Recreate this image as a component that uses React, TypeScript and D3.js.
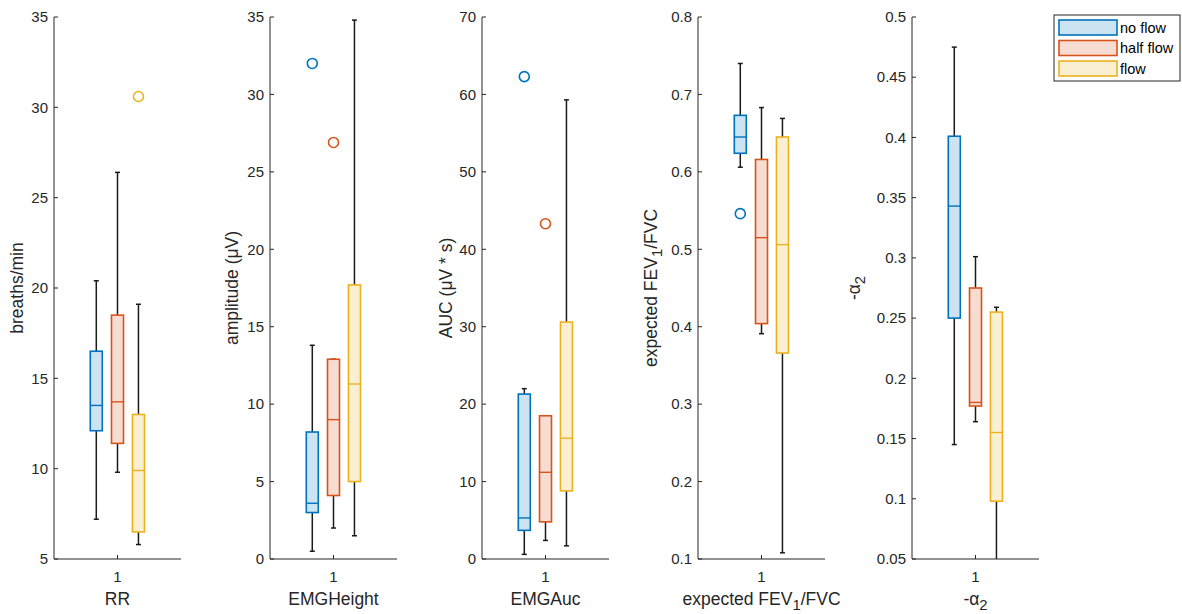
import React from 'react';
import * as d3 from 'd3';

// ---------- data ----------
const groups = ['no flow', 'half flow', 'flow'];
const groupColors = ['#0072BD', '#D95319', '#EDB120'];

// each stat row: [whiskerLow, q1, median, q3, whiskerHigh]
const rrStats = [
  [7.2, 12.1, 13.5, 16.5, 20.4],
  [9.8, 11.4, 13.7, 18.5, 26.4],
  [5.8, 6.5, 9.9, 13.0, 19.1],
];
const rrOutliers = [[], [], [30.6]];

const heightStats = [
  [0.5, 3.0, 3.6, 8.2, 13.8],
  [2.0, 4.1, 9.0, 12.9, 12.9],
  [1.5, 5.0, 11.3, 17.7, 34.8],
];
const heightOutliers = [[32.0], [26.9], []];

const aucStats = [
  [0.6, 3.7, 5.3, 21.3, 22.0],
  [2.4, 4.8, 11.2, 18.5, 18.5],
  [1.7, 8.8, 15.6, 30.6, 59.3],
];
const aucOutliers = [[62.3], [43.3], []];

const fevStats = [
  [0.606, 0.624, 0.645, 0.673, 0.74],
  [0.391, 0.404, 0.515, 0.616, 0.683],
  [0.108, 0.366, 0.506, 0.645, 0.669],
];
const fevOutliers = [[0.546], [], []];

const alphaStats = [
  [0.145, 0.25, 0.343, 0.401, 0.475],
  [0.164, 0.177, 0.18, 0.275, 0.301],
  [0.04, 0.098, 0.155, 0.255, 0.259],
];
const alphaOutliers = [[], [], []];

const rrTicks = [5, 10, 15, 20, 25, 30, 35];
const heightTicks = [0, 5, 10, 15, 20, 25, 30, 35];
const aucTicks = [0, 10, 20, 30, 40, 50, 60, 70];
const fevTicks = [0.1, 0.2, 0.3, 0.4, 0.5, 0.6, 0.7, 0.8];
const alphaTicks = [0.05, 0.1, 0.15, 0.2, 0.25, 0.3, 0.35, 0.4, 0.45, 0.5];
const xTickLabels = ['1'];

type Seg = { t: string; sub?: boolean };

const panels = [
  { stats: rrStats, outliers: rrOutliers, ticks: rrTicks, ylabel: [{ t: 'breaths/min' }] as Seg[], xlabel: [{ t: 'RR' }] as Seg[] },
  { stats: heightStats, outliers: heightOutliers, ticks: heightTicks, ylabel: [{ t: 'amplitude (\u03BCV)' }] as Seg[], xlabel: [{ t: 'EMGHeight' }] as Seg[] },
  { stats: aucStats, outliers: aucOutliers, ticks: aucTicks, ylabel: [{ t: 'AUC (\u03BCV * s)' }] as Seg[], xlabel: [{ t: 'EMGAuc' }] as Seg[] },
  { stats: fevStats, outliers: fevOutliers, ticks: fevTicks, ylabel: [{ t: 'expected FEV' }, { t: '1', sub: true }, { t: '/FVC' }] as Seg[], xlabel: [{ t: 'expected FEV' }, { t: '1', sub: true }, { t: '/FVC' }] as Seg[] },
  { stats: alphaStats, outliers: alphaOutliers, ticks: alphaTicks, ylabel: [{ t: '-\u03B1' }, { t: '2', sub: true }] as Seg[], xlabel: [{ t: '-\u03B1' }, { t: '2', sub: true }] as Seg[] },
];

// ---------- layout ----------
const W = 1182;
const H = 614;
const panelLeft = [54, 270, 482, 698, 912];
const ylabelOffset = [31, 32, 30, 41, 52];
const panelWidth = 127;
const top = 17;
const bottom = 559;
const groupOffsets = [-0.167, 0, 0.165];
const boxHalf = 6;
const capHalf = 2.5;
const axisColor = '#262626';
const labelSize = 17.5;
const FONT = '"Liberation Sans", Arial, Helvetica, sans-serif';

function fillOf(c: string) {
  const rgb = d3.rgb(c);
  const a = 0.2;
  return d3.rgb(rgb.r * a + 255 * (1 - a), rgb.g * a + 255 * (1 - a), rgb.b * a + 255 * (1 - a)).formatHex();
}

function fmt(v: number) {
  return String(+v.toFixed(2));
}

function SegText({ segs, size }: { segs: Seg[]; size: number }) {
  const out: React.ReactNode[] = [];
  let prevSub = false;
  segs.forEach((s, i) => {
    let dy = 0;
    if (s.sub && !prevSub) dy = 5;
    if (!s.sub && prevSub) dy = -5;
    out.push(
      <tspan key={i} dy={dy} fontSize={s.sub ? size * 0.85 : size}>
        {s.t}
      </tspan>
    );
    prevSub = !!s.sub;
  });
  return <>{out}</>;
}

function Panel({ p, idx }: { p: (typeof panels)[number]; idx: number }) {
  const x0 = panelLeft[idx];
  const dom = d3.extent(p.ticks) as [number, number];
  const y = d3.scaleLinear().domain(dom).range([bottom, top]);
  const x = d3.scaleLinear().domain([0.5, 1.5]).range([x0, x0 + panelWidth]);
  const clipId = `clip${idx}`;
  const cx = x(1);
  return (
    <g>
      <defs>
        <clipPath id={clipId}>
          <rect x={x0} y={top} width={panelWidth} height={bottom - top} />
        </clipPath>
      </defs>
      <g clipPath={`url(#${clipId})`}>
        {p.stats.map((s, gi) => {
          const gx = x(1 + groupOffsets[gi]);
          const c = groupColors[gi];
          const [lo, q1, med, q3, hi] = s;
          return (
            <g key={gi}>
              <line x1={gx} x2={gx} y1={y(q3)} y2={y(hi)} stroke="#1a1a1a" strokeWidth={1.5} />
              <line x1={gx} x2={gx} y1={y(q1)} y2={y(lo)} stroke="#1a1a1a" strokeWidth={1.5} />
              <line x1={gx - capHalf} x2={gx + capHalf} y1={y(hi)} y2={y(hi)} stroke="#1a1a1a" strokeWidth={1.5} />
              <line x1={gx - capHalf} x2={gx + capHalf} y1={y(lo)} y2={y(lo)} stroke="#1a1a1a" strokeWidth={1.5} />
              <rect
                x={gx - boxHalf}
                y={y(q3)}
                width={boxHalf * 2}
                height={y(q1) - y(q3)}
                fill={fillOf(c)}
                stroke={c}
                strokeWidth={1.6}
              />
              <line x1={gx - boxHalf} x2={gx + boxHalf} y1={y(med)} y2={y(med)} stroke={c} strokeWidth={1.4} />
              {p.outliers[gi].map((o, oi) => (
                <circle key={oi} cx={gx} cy={y(o)} r={5} fill="none" stroke={c} strokeWidth={1.6} />
              ))}
            </g>
          );
        })}
      </g>
      <line x1={x0} x2={x0} y1={top} y2={bottom} stroke={axisColor} strokeWidth={1} />
      <line x1={x0} x2={x0 + panelWidth} y1={bottom} y2={bottom} stroke={axisColor} strokeWidth={1} />
      {p.ticks.map((t, ti) => (
        <g key={ti}>
          <line x1={x0} x2={x0 + 4} y1={y(t)} y2={y(t)} stroke={axisColor} strokeWidth={1} />
          <text x={x0 - 6} y={y(t)} dy="0.35em" textAnchor="end" fontSize={15} fill={axisColor} fontFamily={FONT}>
            {fmt(t)}
          </text>
        </g>
      ))}
      <line x1={cx} x2={cx} y1={bottom} y2={bottom - 4} stroke={axisColor} strokeWidth={1} />
      <text x={cx} y={582} textAnchor="middle" fontSize={15} fill={axisColor} fontFamily={FONT}>
        {xTickLabels[0]}
      </text>
      <text x={cx} y={605} textAnchor="middle" fontSize={labelSize} fill={axisColor} fontFamily={FONT}>
        <SegText segs={p.xlabel} size={labelSize} />
      </text>
      <text
        transform={`translate(${x0 - ylabelOffset[idx]},${(top + bottom) / 2}) rotate(-90)`}
        textAnchor="middle"
        fontSize={labelSize}
        fill={axisColor}
        fontFamily={FONT}
      >
        <SegText segs={p.ylabel} size={labelSize} />
      </text>
    </g>
  );
}

function Legend() {
  const lx = 1054;
  const ly = 15;
  const rowY = d3.scaleLinear().domain([0, 2]).range([ly + 5, ly + 46]);
  return (
    <g>
      <rect x={lx} y={ly} width={126} height={66} fill="#fff" stroke={axisColor} strokeWidth={1} />
      {groups.map((g, i) => (
        <g key={g}>
          <rect x={lx + 5} y={rowY(i)} width={58} height={15} fill={fillOf(groupColors[i])} stroke={groupColors[i]} strokeWidth={1.6} />
          <text x={lx + 66} y={rowY(i) + 7.5} dy="0.35em" fontSize={14.5} fill="#000" fontFamily={FONT}>
            {g}
          </text>
        </g>
      ))}
    </g>
  );
}

export default function App() {
  return (
    <svg width={W} height={H} style={{ position: 'absolute', left: 0, top: 0, background: '#fff' }}>
      <rect width={W} height={H} fill="#fff" />
      {panels.map((p, i) => (
        <Panel key={i} p={p} idx={i} />
      ))}
      <Legend />
    </svg>
  );
}
